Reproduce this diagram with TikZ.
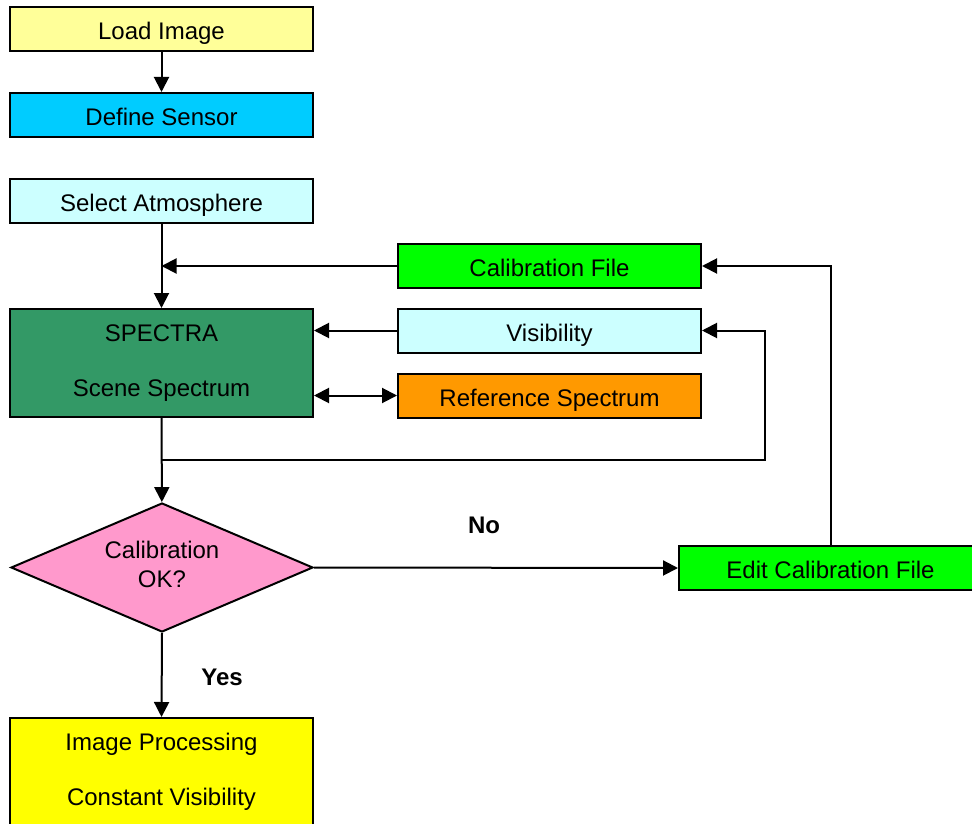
\documentclass[tikz,border=0pt]{standalone}
\usepackage{fontspec}
\setmainfont{Liberation Sans}
\usetikzlibrary{shapes.geometric,arrows.meta}
\definecolor{cLoad}{HTML}{FFFF99}
\definecolor{cSensor}{HTML}{00CCFF}
\definecolor{cAtmo}{HTML}{CCFFFF}
\definecolor{cSpectra}{HTML}{339966}
\definecolor{cCalib}{HTML}{00FF00}
\definecolor{cRef}{HTML}{FF9900}
\definecolor{cDiam}{HTML}{FF99CC}
\definecolor{cProc}{HTML}{FFFF00}
\tikzset{
  basebox/.style={draw=black, line width=1pt, rectangle, minimum width=151.5pt, inner sep=0pt, align=center},
  box/.style={basebox, minimum height=22pt, text height=10.5pt, text depth=0pt, font=\fontsize{12}{14.4}\selectfont},
  bigbox/.style={basebox, minimum height=54pt, font=\fontsize{12}{27.5}\selectfont},
  decision/.style={draw=black, line width=1pt, diamond, aspect=2.34, minimum width=151pt, minimum height=64.5pt, inner sep=0pt, font=\fontsize{12}{14.5}\selectfont, align=center},
  conn/.style={line width=1pt, -{Triangle[length=7.5pt,width=7.5pt]}},
  dconn/.style={line width=1pt, {Triangle[length=7.5pt,width=7.5pt]}-{Triangle[length=7.5pt,width=7.5pt]}},
  lbl/.style={font=\fontsize{12}{14.4}\selectfont\bfseries}
}
\begin{document}
\begin{tikzpicture}[x=0.5pt,y=-0.5pt]
\useasboundingbox (0,0) rectangle (972,823);
\node[box, fill=cLoad] (load) at (161.5,29) {Load Image};
\node[box, fill=cSensor] (sensor) at (161.5,115) {Define Sensor};
\node[box, fill=cAtmo] (atmo) at (161.5,201.5) {Select Atmosphere};
\node[bigbox, fill=cSpectra] (spectra) at (161.5,363) {SPECTRA\\Scene Spectrum};
\node[box, fill=cCalib] (calib) at (549.5,266) {Calibration File};
\node[box, fill=cAtmo] (vis) at (549.5,330.5) {Visibility};
\node[box, fill=cRef] (ref) at (549.5,395.5) {Reference Spectrum};
\node[decision, fill=cDiam] (ok) at (162,567.5) {\raisebox{2.5pt}{\begin{tabular}{@{}c@{}}Calibration\\OK?\end{tabular}}};
\node[box, fill=cCalib] (edit) at (830.5,568) {Edit Calibration File};
\node[bigbox, fill=cProc] (proc) at (161.5,772) {Image Processing\\Constant Visibility};
\node[lbl] (no) at (484,525) {No};
\node[lbl] (yes) at (222,677) {Yes};
\coordinate (br) at (161.5,460);
\coordinate (brx) at (765,460);
\draw[conn] (load) -- (sensor);
\draw[conn] (atmo) -- (spectra);
\draw[conn] (calib.west) -- (calib.west -| atmo.south);
\draw[conn] (vis.west) -- (vis.west -| spectra.east);
\draw[dconn] (ref.west -| spectra.east) -- (ref.west);
\draw[conn] (spectra) -- (ok);
\draw[conn] (br) -- (brx) |- (vis.east);
\draw[conn] (ok.east) -- (edit.west);
\draw[conn] (edit.north) |- (calib.east);
\draw[conn] (ok.south) -- (proc.north);
\end{tikzpicture}
\end{document}
